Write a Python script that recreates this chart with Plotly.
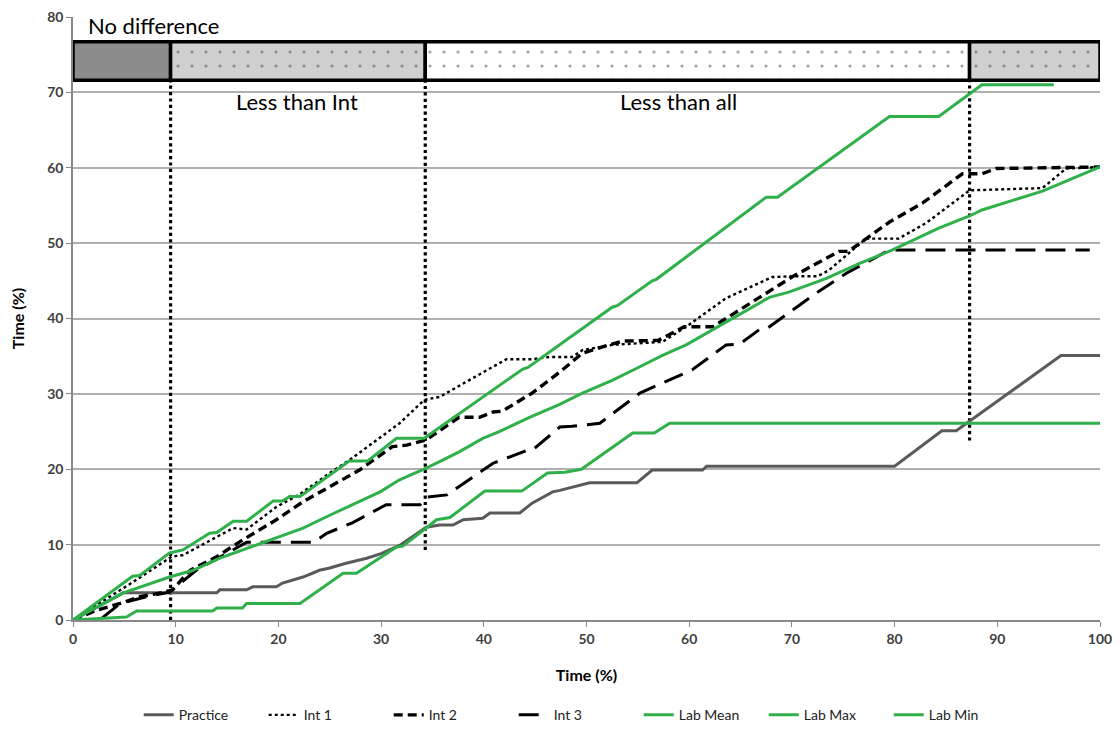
import plotly.graph_objects as go

# ---------------- data ----------------
practice_x = [0, 4.9, 14, 14.3, 16.9, 17.5, 19.8, 20.4, 22.4, 24, 25, 26.5, 28.6, 30, 31.8, 34.4, 35.7, 37, 38,
              39.9, 40.6, 43.5, 44.7, 46.7, 47.4, 48.6, 50.3, 54.9, 56.4, 61.3, 61.7, 80, 84.6, 86, 96.2, 100]
practice_y = [0, 3.6, 3.6, 4.0, 4.0, 4.4, 4.4, 4.9, 5.7, 6.6, 6.9, 7.5, 8.2, 8.8, 9.9, 12.3, 12.6, 12.6, 13.3,
              13.5, 14.2, 14.2, 15.5, 17.0, 17.2, 17.6, 18.2, 18.2, 19.9, 19.9, 20.4, 20.4, 25.1, 25.1, 35.1, 35.1]

int1_x = [0, 5.8, 9.6, 10.7, 15.6, 16.9, 19.8, 22.1, 25, 26.9, 31.8, 34.2, 35.7, 42.2, 44.7, 46.4, 48.6, 49.6,
          52.5, 57.4, 59.7, 63.6, 68.1, 70, 72.5, 73.6, 77.2, 80.4, 83.1, 87.3, 94.4, 96.7, 100]
int1_y = [0, 5, 8.4, 8.6, 12.2, 12.0, 15, 16.7, 19.5, 21.2, 26.1, 29.2, 29.6, 34.6, 34.6, 34.9, 34.9, 35.8,
          36.5, 36.9, 38.9, 42.7, 45.5, 45.6, 45.6, 46.4, 50.6, 50.6, 52.7, 57, 57.3, 59.9, 60.1]

int2_x = [0, 2.3, 4.6, 6.5, 8.2, 9.7, 11.4, 14, 16.5, 19.8, 22.4, 25.7, 27.9, 31.1, 32.5, 34.4, 37.6, 39.6,
          40.9, 41.8, 44.7, 47.4, 49.6, 52.2, 53.5, 57, 59.5, 62.3, 64.9, 68.1, 70, 72.4, 74.6, 75.5, 79.5,
          82.7, 86.6, 88.5, 89.9, 100]
int2_y = [0, 1.3, 2.2, 3.1, 3.5, 4.0, 6.6, 8.4, 10.6, 13.3, 15.7, 18.2, 19.9, 23, 23.2, 23.9, 26.9, 26.9,
          27.6, 27.7, 30.1, 32.9, 35.4, 36.5, 37.0, 37.1, 38.9, 38.9, 41.1, 43.8, 45.5, 47.3, 48.9, 48.9, 52.8,
          55.3, 59.2, 59.2, 59.9, 60.1]

int3_x = [0, 2.6, 4.6, 7.2, 9.4, 12, 16.9, 23.4, 24.7, 27.2, 30.5, 33.8, 34.4, 36.4, 40.9, 44.2, 44.7, 47.4,
          48.6, 51.3, 55.2, 57.4, 59.3, 60.3, 63.6, 64.9, 66.8, 67.5, 72.4, 75.3, 79.5, 99]
int3_y = [0, 0, 2.2, 3.1, 3.7, 6.6, 10.3, 10.3, 11.5, 12.9, 15.3, 15.3, 16.3, 16.6, 20.8, 22.5, 22.5, 25.6,
          25.7, 26.1, 30.1, 31.4, 32.5, 33.2, 36.5, 36.6, 38.5, 38.6, 43.4, 46.0, 49.1, 49.1]

lab_mean_x = [0, 4.9, 9.4, 11.7, 14.3, 16.9, 19.2, 22.4, 25, 27.9, 29.9, 31.8, 34, 36, 37.6, 39.9, 41.5, 44.5,
              47.4, 49.6, 52.5, 54.9, 57.4, 59.7, 62.3, 65.2, 67.8, 69.7, 73.3, 76.6, 79.8, 84.3, 87.3, 88.5,
              91.1, 94.4, 97, 100]
lab_mean_y = [0, 3.6, 5.7, 6.6, 8.2, 9.5, 10.6, 12.2, 13.9, 15.7, 17, 18.6, 19.9, 21.2, 22.3, 24.1, 25, 26.9,
              28.6, 30.1, 31.8, 33.4, 35.1, 36.5, 38.5, 40.7, 42.8, 43.5, 45.3, 47.3, 49.1, 52, 53.6, 54.4,
              55.5, 56.9, 58.4, 60.1]

lab_max_x = [0, 4.9, 5.8, 6.5, 9.4, 10.7, 13.3, 14, 15.6, 16.9, 19.5, 20.4, 21.1, 22.1, 26.9, 28.7, 31.5, 34.2,
             43.8, 44.3, 52.5, 53, 56.4, 56.8, 67.5, 68.6, 79.5, 84.3, 88.5, 95.5]
lab_max_y = [0, 4.9, 5.8, 5.9, 8.9, 9.3, 11.5, 11.6, 13.1, 13.1, 15.8, 15.8, 16.4, 16.4, 21.1, 21.1, 24.1, 24.1,
             33.3, 33.5, 41.5, 41.7, 45.0, 45.2, 56.1, 56.1, 66.8, 66.8, 71.0, 71.0]

lab_min_x = [0, 5.2, 6.2, 13.6, 14, 16.5, 16.9, 22.1, 26.3, 27.6, 31.5, 32.1, 34.4, 35.4, 36.7, 40.1, 43.7,
             46.2, 47.9, 49.5, 54.5, 56.6, 58.1, 100]
lab_min_y = [0, 0.4, 1.2, 1.2, 1.6, 1.6, 2.2, 2.2, 6.2, 6.2, 9.7, 9.8, 12.2, 13.3, 13.6, 17.1, 17.1,
             19.5, 19.6, 20.0, 24.8, 24.8, 26.1, 26.1]

# significance band
band_start = [0, 9.5, 34.3, 87.3]
band_end = [9.5, 34.3, 87.3, 100]
band_fill = ["#8c8c8c", "#d0d0d0", "#ffffff", "#d0d0d0"]
band_pattern = ["", ".", ".", "."]
band_low, band_high = 71.6, 76.7

divider_x = [9.5, 34.3, 87.3]
divider_bottom = [0, 9.3, 23.8]

region_labels = ["No difference", "Less than Int", "Less than all"]
region_label_x = [1.3, 21.8, 59.0]
region_label_y = [78.9, 68.8, 68.8]
region_label_anchor = ["left", "center", "center"]

x_ticks = list(range(0, 101, 10))
y_ticks = list(range(0, 81, 10))

# ---------------- figure ----------------
GREEN = "#2fb04a"
FONT = "Lato, Open Sans, sans-serif"
fig = go.Figure()

# band as horizontal bars
fig.add_trace(go.Bar(
    orientation="h",
    y=[(band_low + band_high) / 2] * len(band_start),
    x=[e - s for s, e in zip(band_start, band_end)],
    base=band_start,
    width=band_high - band_low,
    marker=dict(color=band_fill,
                pattern=dict(shape=band_pattern, fgcolor="black", size=14, solidity=0.04),
                line=dict(color="black", width=3.5)),
    showlegend=False, hoverinfo="skip",
))

# vertical dotted dividers
for dx, db in zip(divider_x, divider_bottom):
    fig.add_trace(go.Scatter(x=[dx, dx], y=[db, band_low], mode="lines",
                             line=dict(color="black", width=3.2, dash="dot"),
                             showlegend=False, hoverinfo="skip"))

series = [
    ("Practice", practice_x, practice_y, dict(color="#5a5a5a", width=3)),
    ("Int 1", int1_x, int1_y, dict(color="black", width=2.4, dash="dot")),
    ("Int 2", int2_x, int2_y, dict(color="black", width=3.4, dash="9px,5px")),
    ("Int 3", int3_x, int3_y, dict(color="black", width=3, dash="20px,10px")),
    ("Lab Mean", lab_mean_x, lab_mean_y, dict(color=GREEN, width=3)),
    ("Lab Max", lab_max_x, lab_max_y, dict(color=GREEN, width=3)),
    ("Lab Min", lab_min_x, lab_min_y, dict(color=GREEN, width=3)),
]
for name, xs, ys, ln in series:
    fig.add_trace(go.Scatter(x=xs, y=ys, mode="lines", name=name, line=ln))

for txt, lx, ly, anc in zip(region_labels, region_label_x, region_label_y, region_label_anchor):
    fig.add_annotation(x=lx, y=ly, text=txt, showarrow=False, xanchor=anc, yanchor="middle",
                       font=dict(family=FONT, size=22, color="black"))

axis_font = dict(family=FONT, size=14, color="#404040", weight="bold")
title_font = dict(family=FONT, size=16, color="black", weight="bold")
fig.update_xaxes(range=[0, 100], tickvals=x_ticks, showgrid=False, zeroline=False, automargin=False,
                 showline=True, linecolor="#888888", linewidth=1.5, ticklabeloverflow="allow",
                 ticks="outside", ticklen=5, tickcolor="#888888", tickfont=axis_font,
                 title=dict(text="Time (%)", standoff=24, font=title_font))
fig.update_yaxes(range=[0, 80], tickvals=y_ticks, showgrid=True, gridcolor="#b0b0b0", gridwidth=1.5,
                 zeroline=False, showline=True, linecolor="#888888", linewidth=1.5, automargin=False,
                 ticklabeloverflow="allow",
                 ticks="outside", ticklen=5, tickcolor="#888888", tickfont=axis_font,
                 title=dict(text="Time (%)", standoff=25, font=title_font))

fig.update_layout(
    width=1104, height=718,
    margin=dict(l=65, r=12, t=9, b=106, autoexpand=False),
    plot_bgcolor="white", paper_bgcolor="white",
    barmode="overlay",
    legend=dict(orientation="h", x=0.49, xanchor="center", y=-0.158, yanchor="middle",
                font=dict(family=FONT, size=14, color="#222222"),
                entrywidth=80, entrywidthmode="pixels", tracegroupgap=0),
)

fig.write_html("out.html")
